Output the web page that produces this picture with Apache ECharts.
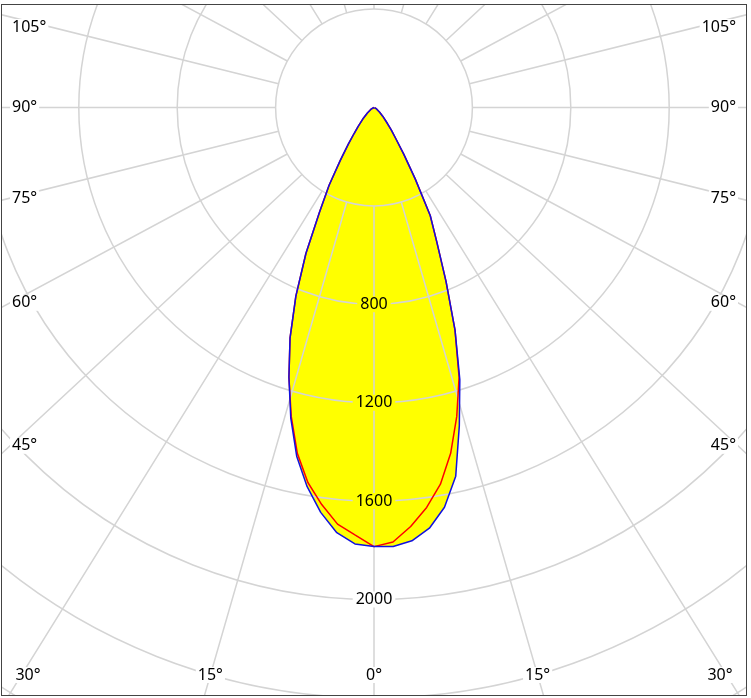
<!DOCTYPE html>
<html>
<head>
<meta charset="utf-8">
<script src="https://cdn.jsdelivr.net/npm/echarts@6/dist/echarts.min.js"></script>
<style>
body{
	margin: 0;
	background-color: #fff;
}
#chart{
	position: absolute;
	left: 1px;
	top: 4px;
	width: 744px;
	height: 690px;
	border: 1px solid #444;
}
</style>
</head>
<body>
<div id="chart"></div>
<script type="text/javascript">
// gamma angles (deg from nadir) and luminous intensity per C plane
var gamma = [0, 2.5, 5, 7.5, 10, 12.5, 15, 17.5, 20, 22.5, 25, 27.5, 30, 32.5, 35, 37.5, 40, 45, 50, 55, 60, 70, 80, 90];
var c0   = [1785, 1786, 1768, 1725, 1650, 1535, 1340, 1160, 963, 765, 605, 495, 335, 225, 155, 115, 85, 50, 30, 20, 12, 5, 2, 0];
var c180 = [1785, 1776, 1735, 1660, 1565, 1452, 1307, 1150, 998, 830, 655, 480, 365, 255, 182, 132, 100, 60, 35, 22, 14, 6, 2, 0];
var c90  = [1785, 1768, 1710, 1640, 1555, 1440, 1300, 1150, 963, 765, 605, 495, 335, 225, 155, 115, 85, 50, 30, 20, 12, 5, 2, 0];
var c270 = [1785, 1740, 1700, 1628, 1548, 1440, 1300, 1150, 998, 830, 655, 480, 365, 255, 182, 132, 100, 60, 35, 22, 14, 6, 2, 0];

var radiusTicks = [400, 800, 1200, 1600, 2000, 2400, 2800, 3200];
var radiusLabels = [800, 1200, 1600, 2000];
var spokeAngles = [0, 15, 30, 45, 60, 75, 90, 105, 120, 135, 150, 165, 180];
var angleLabels = [0, 15, 30, 45, 60, 75, 90, 105];

var CX = 372, CY = 102.5;
var R0 = 98.4;                       // radius of the 400 ring
var ROUT = R0 * radiusTicks[radiusTicks.length - 1] / radiusTicks[0];
var STRETCH = 751 / 698;             // spokes are drawn with the frame aspect
var SIDE = 364, BOTTOM_Y = 670, TOP_Y = 22;
var FONT_FAMILY = 'Noto Sans', FONT_SIZE = 16;
var FONT = FONT_SIZE + 'px "' + FONT_FAMILY + '"';
var GRID = '#d4d4d4';

function rad(d) { return d * Math.PI / 180; }
function stretched(g) {
	return Math.atan2(STRETCH * Math.sin(rad(g)), Math.cos(rad(g))) * 180 / Math.PI;
}

// spoke positions on the angle axis (left = value, right = 360 - value)
var spokeValues = [];
spokeAngles.forEach(function (g) {
	var v = stretched(g);
	spokeValues.push(v);
	if (g > 0 && g < 180) spokeValues.push(360 - v);
});

function plane(left, right) {
	var pts = [];
	for (var i = gamma.length - 1; i >= 0; i--) pts.push([left[i], gamma[i]]);
	for (var j = 0; j < gamma.length; j++) pts.push([right[j], 360 - gamma[j]]);
	return pts;
}

// angle labels sit where each spoke meets the inner edge of the frame
function angleLabel(g, side) {
	var s = STRETCH * Math.sin(rad(g)), c = Math.cos(rad(g));
	var tSide = s > 0 ? SIDE / s : Infinity;
	var tBottom = c > 0 ? (BOTTOM_Y - CY) / c : Infinity;
	var x, y, align;
	if (tBottom < tSide) {
		y = BOTTOM_Y;
		x = CX + side * Math.min(tBottom * s, SIDE - 18);
		align = 'center';
	} else {
		x = CX + side * SIDE;
		y = Math.max(CY + tSide * c, TOP_Y);
		align = side < 0 ? 'left' : 'right';
	}
	return {
		type: 'text', x: x, y: y, z: 10,
		style: {
			text: g + '°', font: FONT, fill: '#000',
			align: align, verticalAlign: 'middle',
			backgroundColor: '#fff', padding: [0, 2]
		}
	};
}

var labels = [];
angleLabels.forEach(function (g) {
	labels.push(angleLabel(g, -1));
	if (g > 0) labels.push(angleLabel(g, 1));
});

var chart = echarts.init(document.getElementById('chart'));
chart.setOption({
	animation: false,
	polar: [
		{ center: [CX, CY], radius: [R0, ROUT] },
		{ center: [CX, CY], radius: ROUT }
	],
	angleAxis: [
		{
			polarIndex: 0, type: 'value', min: 0, max: 360, startAngle: 270, clockwise: true, z: 0,
			axisLine: { show: false },
			axisTick: { show: false, customValues: spokeValues },
			axisLabel: { show: false },
			splitLine: { show: true, lineStyle: { color: GRID, width: 1.5 } }
		},
		{ polarIndex: 1, type: 'value', min: 0, max: 360, startAngle: 270, clockwise: true, show: false }
	],
	radiusAxis: [
		{
			polarIndex: 0, type: 'value', min: radiusTicks[0], max: radiusTicks[radiusTicks.length - 1],
			interval: radiusTicks[1] - radiusTicks[0], z: 1,
			axisLine: { show: false },
			axisTick: { show: false },
			axisLabel: {
				margin: 0, align: 'center', verticalAlign: 'middle',
				fontFamily: FONT_FAMILY, fontSize: FONT_SIZE, color: '#000',
				formatter: function (v) {
					if (radiusLabels.indexOf(v) < 0) return '';
					return (v < c0[0] ? '{y|' : '{w|') + v + '}';
				},
				rich: {
					y: { backgroundColor: '#ffff00', padding: [0, 3], fontFamily: FONT_FAMILY, fontSize: FONT_SIZE },
					w: { backgroundColor: '#fff', padding: [0, 3], fontFamily: FONT_FAMILY, fontSize: FONT_SIZE }
				}
			},
			splitLine: { show: true, lineStyle: { color: GRID, width: 1.5 } }
		},
		{ polarIndex: 1, type: 'value', min: 0, max: radiusTicks[radiusTicks.length - 1], show: false }
	],
	series: [
		{
			name: 'fill', type: 'line', coordinateSystem: 'polar', polarIndex: 1, z: -1,
			data: plane(c180, c0), symbol: 'none', silent: true,
			lineStyle: { width: 0, opacity: 0 },
			areaStyle: { color: '#ffff00', opacity: 1 }
		},
		{
			name: 'C90-C270', type: 'line', coordinateSystem: 'polar', polarIndex: 1, z: 3,
			data: plane(c270, c90), symbol: 'none',
			lineStyle: { color: '#ff0000', width: 1.5 }
		},
		{
			name: 'C0-C180', type: 'line', coordinateSystem: 'polar', polarIndex: 1, z: 4,
			data: plane(c180, c0), symbol: 'none',
			lineStyle: { color: '#1010e0', width: 1.5 }
		}
	],
	graphic: { elements: labels }
});
</script>
</body>
</html>
